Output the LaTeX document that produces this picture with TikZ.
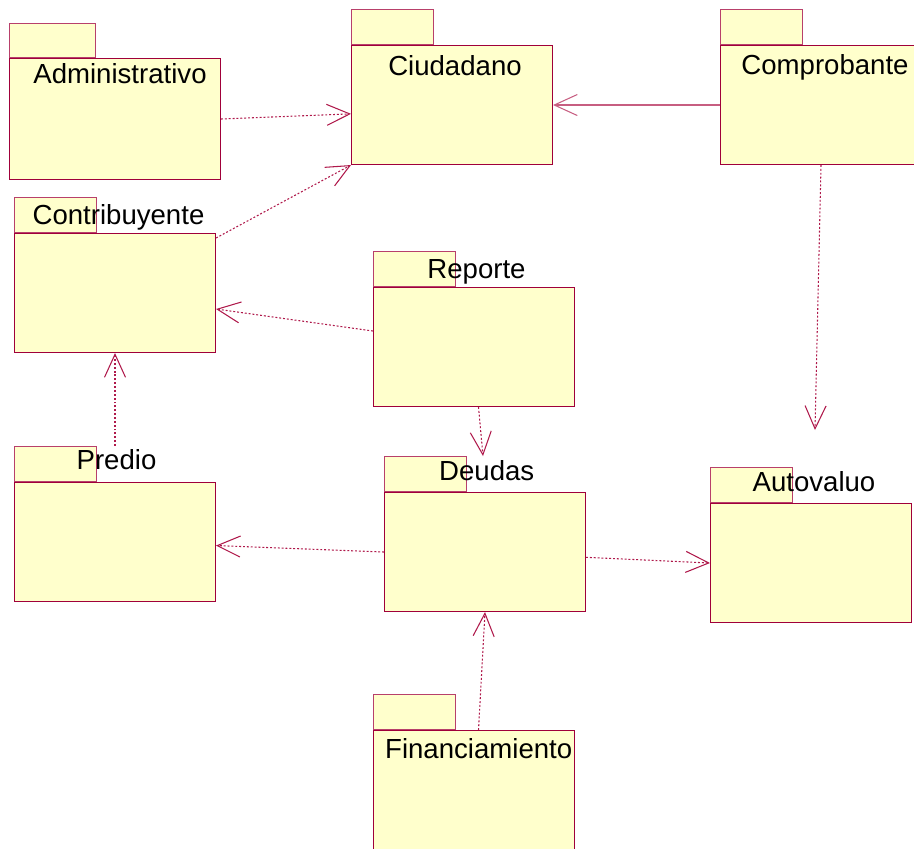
\documentclass[tikz,border=0pt]{standalone}
\usepackage{fontspec}
\setmainfont{Liberation Sans}
\usepackage{xcolor}
\usetikzlibrary{arrows.meta}

\definecolor{pkgline}{RGB}{160,0,58}
\definecolor{pkgfill}{RGB}{255,255,204}
\definecolor{depline}{RGB}{175,25,75}

\begin{document}
\begin{tikzpicture}[x=0.02cm,y=-0.02cm,
        pkg/.style={draw=pkgline, fill=pkgfill, line width=0.6pt, minimum width=4.02cm, minimum height=2.38cm, inner sep=0pt, anchor=north west},
        tab/.style={draw=pkgline!75, fill=pkgfill, line width=0.6pt, minimum width=1.64cm, minimum height=0.7cm, inner sep=0pt, anchor=south west},
        lbl/.style={anchor=base, inner sep=0pt, font=\fontsize{15.7}{18}\selectfont},
        dep/.style={draw=depline, line width=0.6pt, dash pattern=on 1.1pt off 1.1pt, -{Straight Barb[length=0.46cm,width=0.42cm]}},
        assoc/.style={draw=depline!70, line width=0.6pt, -{Straight Barb[length=0.46cm,width=0.42cm]}}]
        \useasboundingbox (0,0) rectangle (914,849);
        \clip (0,0) rectangle (914,849);

        \node[pkg, minimum width=4.22cm, minimum height=2.42cm] (admin) at (9,58) {};
        \node[tab, minimum width=1.72cm, minimum height=0.68cm] (admintab) at (admin.north west) {};
        \node[pkg] (ciud) at (351,45) {};
        \node[tab] (ciudtab) at (ciud.north west) {};
        \node[pkg] (compr) at (720,45) {};
        \node[tab] (comprtab) at (compr.north west) {};
        \node[pkg] (contrib) at (14,233) {};
        \node[tab] (contribtab) at (contrib.north west) {};
        \node[pkg] (reporte) at (373,287) {};
        \node[tab] (reportetab) at (reporte.north west) {};
        \node[pkg] (predio) at (14,482) {};
        \node[tab] (prediotab) at (predio.north west) {};
        \node[pkg] (deudas) at (384,492) {};
        \node[tab] (deudastab) at (deudas.north west) {};
        \node[pkg] (auto) at (710,503) {};
        \node[tab] (autotab) at (auto.north west) {};
        \node[pkg] (fin) at (373,730) {};
        \node[tab] (fintab) at (fin.north west) {};

        \coordinate (autotip) at (815,430);
        \coordinate (deudastip) at (483,456);

        \draw[dep] (admin.east) -- (ciud.185);
        \draw[dep] ([yshift=-0.1cm]contrib.north east) -- (ciud.south west);
        \draw[assoc] (compr.west) -- (ciud.east);
        \draw[dep] (compr.south) -- (autotip);
        \draw[dep] (reporte.171) -- (contrib.351);
        \draw[dep] ([xshift=0.09cm]reporte.south) -- (deudastip);
        \draw[dep] (predio.north |- prediotab.north) -- (contrib.south);
        \draw[dep] (deudas.west) -- (predio.358);
        \draw[dep] (deudas.357) -- (auto.west);
        \draw[dep] ([xshift=0.09cm]fin.north) -- (deudas.south);

        \node[lbl] (adminlbl) at (120,83) {Administrativo};
        \node[lbl] (ciudlbl) at (455,75) {Ciudadano};
        \node[lbl] (comprlbl) at (825,74) {Comprobante};
        \node[lbl] (contriblbl) at (118.5,224) {Contribuyente};
        \node[lbl] (reportelbl) at (476.5,278) {Reporte};
        \node[lbl] (prediolbl) at (116.5,469) {Predio};
        \node[lbl] (deudaslbl) at (486.7,480) {Deudas};
        \node[lbl] (autolbl) at (814,491) {Autovaluo};
        \node[lbl] (finlbl) at (478.7,758) {Financiamiento};
    \end{tikzpicture}
\end{document}
